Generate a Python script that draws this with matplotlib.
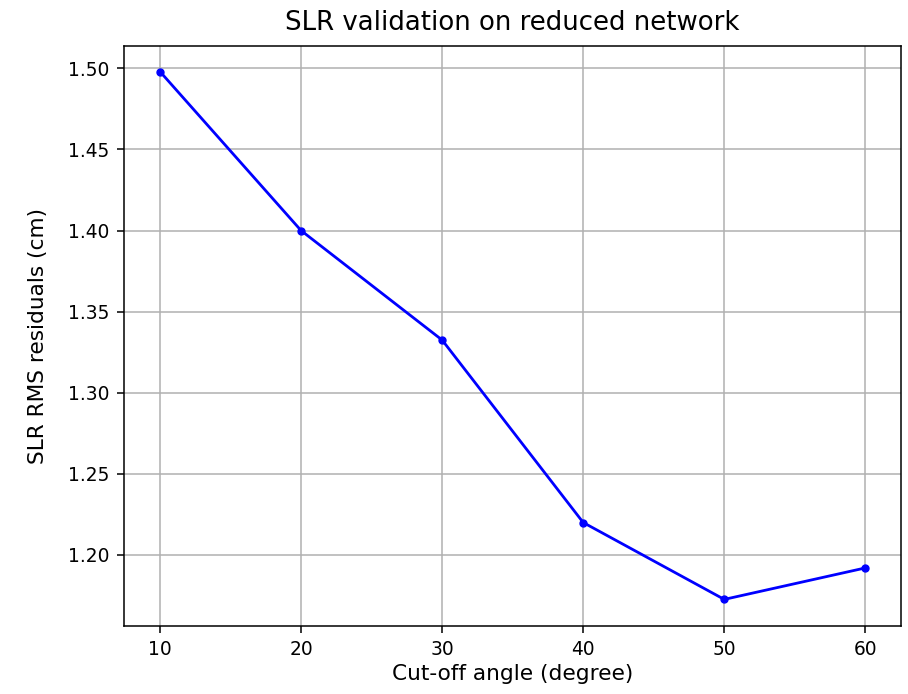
import numpy as np
import matplotlib
matplotlib.use('Agg')
import matplotlib.pyplot as plt

# data
cutoff = [10, 20, 30, 40, 50, 60]
rms_cm = [1.498, 1.400, 1.3325, 1.2200, 1.1726, 1.1920]
yticks = [1.20, 1.25, 1.30, 1.35, 1.40, 1.45, 1.50]

fig = plt.figure(figsize=(9.08, 6.94), dpi=100)
ax = fig.add_axes([123.5/908, 1-626/694, (901-123.5)/908, (626-45.5)/694])

ax.plot(cutoff, rms_cm, color='blue', marker='o', markersize=5, linewidth=2)
ax.set_xticks(cutoff)
ax.set_yticks(yticks)
ax.set_yticklabels(['%.2f' % v for v in yticks])
ax.set_ylim(1.1562, 1.5141)
ax.set_xlim(7.41, 62.53)
ax.grid(True, color='#b0b0b0', linewidth=1.1)
ax.tick_params(labelsize=13.4, length=5, width=1.1, pad=5)
for s in ax.spines.values():
    s.set_linewidth(1.1)

ax.set_xlabel('Cut-off angle (degree)', fontsize=15.6, labelpad=4)
ax.set_ylabel('SLR RMS residuals (cm)', fontsize=15.6, labelpad=14.5)
ax.set_title('SLR validation on reduced network', fontsize=18.7, pad=11)

fig.savefig('out.png', dpi=100)
